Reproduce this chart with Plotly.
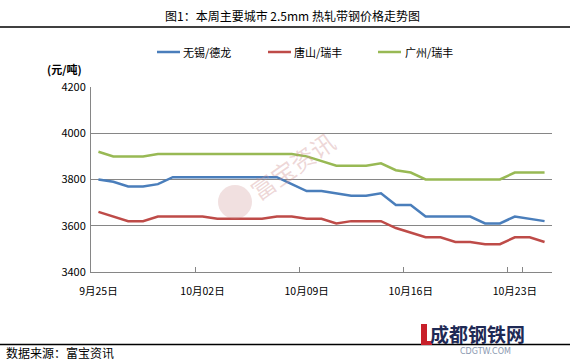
import plotly.graph_objects as go

dates = ["09-25","09-26","09-27","09-28","09-29","09-30","10-01","10-02","10-03","10-04",
         "10-05","10-06","10-07","10-08","10-09","10-10","10-11","10-12","10-13","10-14",
         "10-15","10-16","10-17","10-18","10-19","10-20","10-21","10-22","10-23","10-24","10-25"]
wuxi = [3800,3790,3770,3770,3780,3810,3810,3810,3810,3810,3810,3810,3810,3780,3750,3750,
        3740,3730,3730,3740,3690,3690,3640,3640,3640,3640,3610,3610,3640,3630,3620]
tangshan = [3660,3640,3620,3620,3640,3640,3640,3640,3630,3630,3630,3630,3640,3640,3630,3630,
            3610,3620,3620,3620,3590,3570,3550,3550,3530,3530,3520,3520,3550,3550,3530]
guangzhou = [3920,3900,3900,3900,3910,3910,3910,3910,3910,3910,3910,3910,3910,3910,3900,3880,
             3860,3860,3860,3870,3840,3830,3800,3800,3800,3800,3800,3800,3830,3830,3830]
series_names = ["无锡/德龙", "唐山/瑞丰", "广州/瑞丰"]
tick_vals = ["09-25","10-02","10-09","10-16","10-23"]
tick_text = ["9月25日","10月02日","10月09日","10月16日","10月23日"]
y_ticks = [3400,3600,3800,4000,4200]

FONT = "Noto Sans CJK SC"
colors = ["#4A7EBB", "#BE4B48", "#98B954"]

L, T, W, H = 91, 87, 461, 185   # plot area in pixels


def px(x):
    return (x - L) / W


def py(y):
    return (T + H - y) / H


fig = go.Figure()
for name, vals, c in zip(series_names, [wuxi, tangshan, guangzhou], colors):
    fig.add_trace(go.Scatter(x=dates, y=vals, mode="lines", name=name,
                             line=dict(color=c, width=2.5)))

fig.update_layout(
    width=570, height=360,
    margin=dict(l=L, r=570 - L - W, t=T, b=360 - T - H, autoexpand=False),
    paper_bgcolor="white", plot_bgcolor="white",
    font=dict(family=FONT, size=11, color="black"),
    showlegend=False,
    xaxis=dict(type="category", range=[-0.5, 30.5], tickvals=tick_vals, ticktext=tick_text,
               tickson="boundaries", ticks="inside", ticklen=5, tickcolor="#868686",
               tickangle=0, ticklabelstandoff=9, showline=True, linecolor="#868686",
               linewidth=1, showgrid=False,
               tickfont=dict(size=10.5, family=FONT), zeroline=False, automargin=False),
    yaxis=dict(range=[3400, 4200], tickvals=y_ticks, showgrid=True, gridcolor="#868686",
               gridwidth=1, showline=True, linecolor="#868686", linewidth=1,
               ticks="", ticklabelstandoff=2, tickfont=dict(size=11, family=FONT),
               zeroline=False, automargin=False),
)

# Manual legend
legend_items = [(157, 181), (268, 292), (378, 403)]
for (x0, xt), name, c in zip(legend_items, series_names, colors):
    fig.add_shape(type="line", xref="paper", yref="paper", x0=px(x0), x1=px(x0 + 23),
                  y0=py(52), y1=py(52), line=dict(color=c, width=2.5))
    fig.add_annotation(text=name, xref="paper", yref="paper", x=px(xt), y=py(52),
                       showarrow=False, xanchor="left", yanchor="middle",
                       font=dict(size=11, family=FONT))

# Title and separator lines
fig.add_annotation(text="图1：本周主要城市 2.5mm 热轧带钢价格走势图", xref="paper", yref="paper",
                   x=px(292), y=py(15), showarrow=False,
                   font=dict(size=12, family=FONT), xanchor="center", yanchor="middle")
fig.add_shape(type="line", xref="paper", yref="paper", x0=px(0), x1=px(570),
              y0=py(27), y1=py(27), line=dict(color="black", width=1.5))
fig.add_shape(type="line", xref="paper", yref="paper", x0=px(0), x1=px(570),
              y0=py(344.5), y1=py(344.5), line=dict(color="black", width=1.5))

# Y axis unit label
fig.add_annotation(text="<b>(元/吨)</b>", xref="paper", yref="paper",
                   x=px(84), y=py(69), showarrow=False,
                   font=dict(size=11, family=FONT), xanchor="right", yanchor="middle")

# Source
fig.add_annotation(text="数据来源：富宝资讯", xref="paper", yref="paper",
                   x=px(4), y=py(352), showarrow=False,
                   font=dict(size=12, family=FONT), xanchor="left", yanchor="middle")

# Logo bottom-right
fig.add_shape(type="rect", xref="paper", yref="paper",
              x0=px(421), x1=px(427), y0=py(345), y1=py(324),
              line=dict(width=0), fillcolor="#C8202A")
fig.add_shape(type="rect", xref="paper", yref="paper",
              x0=px(421), x1=px(432), y0=py(345), y1=py(341),
              line=dict(width=0), fillcolor="#C8202A")
fig.add_annotation(text="<b>成都钢铁网</b>", xref="paper", yref="paper",
                   x=px(428), y=py(333), showarrow=False,
                   font=dict(size=19, family=FONT, color="#1F2A55"),
                   xanchor="left", yanchor="middle")
fig.add_annotation(text="CDGTW.COM", xref="paper", yref="paper",
                   x=px(485), y=py(351), showarrow=False,
                   font=dict(size=8, family="DejaVu Sans", color="#8a98b0"),
                   xanchor="center", yanchor="middle")

# Watermark
fig.add_shape(type="circle", xref="paper", yref="paper",
              x0=px(218), x1=px(252), y0=py(219), y1=py(185),
              line=dict(width=0), fillcolor="rgba(200,130,130,0.25)")
fig.add_annotation(text="富宝资讯", xref="paper", yref="paper",
                   x=px(292), y=py(165), showarrow=False, textangle=-35,
                   font=dict(size=24, family=FONT, color="rgba(205,140,140,0.35)"),
                   xanchor="center", yanchor="middle")

fig.write_html("out.html", config={"displayModeBar": False},
               post_script="document.body.style.margin='0';")
